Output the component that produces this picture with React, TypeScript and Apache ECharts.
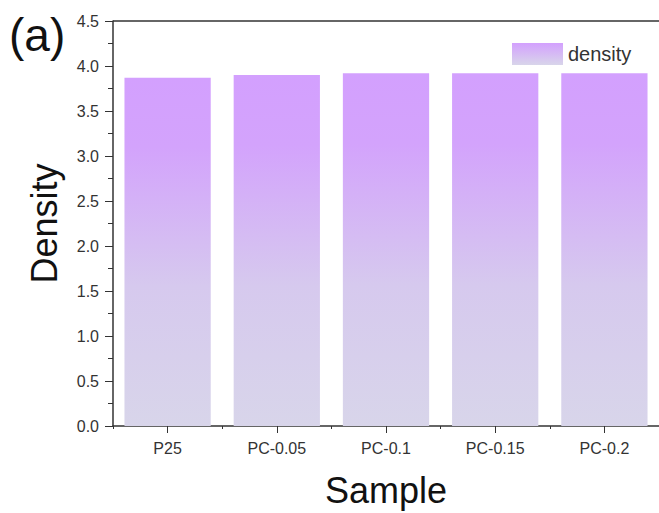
import React, { useEffect, useRef } from "react";
import * as echarts from "echarts";

const categories = ["P25", "PC-0.05", "PC-0.1", "PC-0.15", "PC-0.2"];
const densityValues = [3.87, 3.9, 3.92, 3.92, 3.92];
const yTicks = [0, 0.5, 1.0, 1.5, 2.0, 2.5, 3.0, 3.5, 4.0, 4.5];

const FONT = "Liberation Sans";

export default function App() {
  const ref = useRef<HTMLDivElement>(null);
  useEffect(() => {
    if (!ref.current) return;
    const chart = echarts.init(ref.current, undefined, { renderer: "svg" });
    const mkGrad = () =>
      new echarts.graphic.LinearGradient(0, 0, 0, 1, [
        { offset: 0, color: "#D3A0FE" },
        { offset: 0.2, color: "#D3A3FC" },
        { offset: 0.6, color: "#D6C9EE" },
        { offset: 1, color: "#D8D5EA" },
      ]);
    chart.setOption({
      animation: false,
      backgroundColor: "#ffffff",
      textStyle: { fontFamily: FONT },
      grid: { left: 113, top: 21, width: 550, bottom: 81, containLabel: false },
      legend: {
        show: true,
        left: 507,
        top: 38,
        icon: "rect",
        itemWidth: 51,
        itemHeight: 22,
        itemGap: 6,
        data: [{ name: "density", itemStyle: { color: new echarts.graphic.LinearGradient(0, 0, 0, 1, [
          { offset: 0, color: "#D3A0FE" },
          { offset: 1, color: "#D8D5EA" },
        ]) } }],
        textStyle: { fontSize: 20, color: "#333", fontFamily: FONT },
      },
      graphic: [
        {
          type: "text",
          left: 9,
          top: 12,
          style: { text: "(a)", fontSize: 46, fill: "#111", fontFamily: FONT },
        },
        {
          type: "line",
          shape: { x1: 113, y1: 21, x2: 663, y2: 21 },
          style: { stroke: "#333", lineWidth: 1.5 },
        },
      ],
      xAxis: [
        {
          type: "category",
          data: categories,
          name: "Sample",
          nameLocation: "middle",
          nameGap: 46,
          nameTextStyle: { fontSize: 36, color: "#111", fontFamily: FONT },
          axisLine: { lineStyle: { color: "#333", width: 1.5 } },
          axisTick: { show: true, alignWithLabel: true, length: 7, lineStyle: { color: "#333" } },
          axisLabel: { fontSize: 16, color: "#333", margin: 14, fontFamily: FONT },
        },
        {
          type: "category",
          data: categories,
          position: "bottom",
          gridIndex: 0,
          axisLine: { show: false },
          axisTick: { show: true, alignWithLabel: false, length: 3, lineStyle: { color: "#333" } },
          axisLabel: { show: false },
        },
      ],
      yAxis: {
        type: "value",
        min: 0,
        max: 4.5,
        interval: 0.5,
        name: "Density",
        nameLocation: "middle",
        nameGap: 51,
        nameTextStyle: { fontSize: 36, color: "#111", fontFamily: FONT },
        axisLine: { show: true, lineStyle: { color: "#333", width: 1.5 } },
        axisTick: { show: true, length: 8, lineStyle: { color: "#333" } },
        minorTick: { show: true, splitNumber: 2, length: 5, lineStyle: { color: "#333" } },
        splitLine: { show: false },
        axisLabel: {
          fontSize: 16,
          color: "#333",
          margin: 14,
          fontFamily: FONT,
          formatter: (v: number) => (yTicks.includes(v) ? v.toFixed(1) : ""),
        },
      },
      series: [
        {
          name: "density",
          type: "bar",
          xAxisIndex: 0,
          data: densityValues,
          barCategoryGap: "21%",
          itemStyle: { color: mkGrad() },
        },
      ],
    });
    return () => chart.dispose();
  }, []);
  return (
    <div
      ref={ref}
      style={{ position: "absolute", left: 0, top: 0, width: 659, height: 513 }}
    />
  );
}
